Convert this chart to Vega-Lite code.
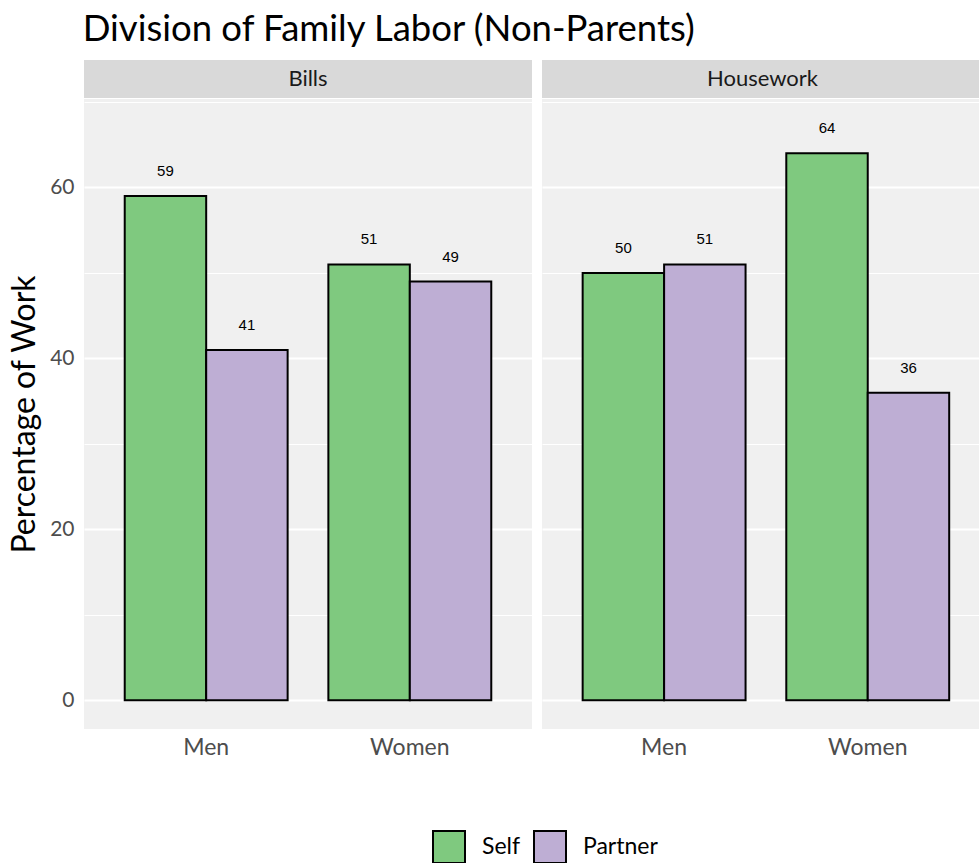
{
  "$schema": "https://vega.github.io/schema/vega-lite/v6.json",
  "background": "white",
  "padding": {"left": 8, "top": 11, "right": 0, "bottom": 0},
  "title": {"text": "Division of Family Labor (Non-Parents)", "anchor": "start", "font": "Lato", "fontSize": 36.5, "fontWeight": "normal", "color": "black", "dx": 74, "offset": 12},
  "datasets": {
    "labor": [
      {"facet": "Bills", "gender": "Men", "who": "Self", "value": 59},
      {"facet": "Bills", "gender": "Men", "who": "Partner", "value": 41},
      {"facet": "Bills", "gender": "Women", "who": "Self", "value": 51},
      {"facet": "Bills", "gender": "Women", "who": "Partner", "value": 49},
      {"facet": "Housework", "gender": "Men", "who": "Self", "value": 50},
      {"facet": "Housework", "gender": "Men", "who": "Partner", "value": 51},
      {"facet": "Housework", "gender": "Women", "who": "Self", "value": 64},
      {"facet": "Housework", "gender": "Women", "who": "Partner", "value": 36}
    ],
    "strips": [{"facet": "Bills"}, {"facet": "Housework"}]
  },
  "spacing": 10,
  "hconcat": [
    {
      "spacing": 1,
      "vconcat": [
        {
          "data": {"name": "strips"},
          "transform": [{"filter": "datum.facet === 'Bills'"}],
          "width": 448, "height": 38,
          "view": {"fill": "#D9D9D9", "stroke": null},
          "mark": {"type": "text", "font": "Lato", "fontSize": 22, "color": "#1A1A1A"},
          "encoding": {"text": {"field": "facet"}}
        },
        {
          "data": {"name": "labor"},
          "transform": [{"filter": "datum.facet === 'Bills'"}],
          "width": 448, "height": 630,
          "view": {"fill": "#F0F0F0", "stroke": null},
          "encoding": {
            "x": {"field": "gender", "type": "nominal", "sort": ["Men", "Women"],
                  "scale": {"paddingInner": 0.2, "paddingOuter": 0.2},
                  "axis": {"title": null, "labelAngle": 0, "ticks": false, "domain": false, "labelFont": "Lato", "labelFontSize": 23, "labelColor": "#4D4D4D", "labelPadding": 7}},
            "xOffset": {"field": "who", "sort": ["Self", "Partner"]},
            "y": {"field": "value", "type": "quantitative",
                  "scale": {"domain": [-3.35, 70.35], "nice": false, "zero": false},
                  "axis": {"title": "Percentage of Work", "titleFont": "Lato", "titleFontSize": 32, "titleFontWeight": "normal", "titleColor": "black", "titlePadding": 8,
                           "values": [0, 10, 20, 30, 40, 50, 60, 70], "labelExpr": "datum.value % 20 === 0 ? datum.label : ''",
                           "ticks": false, "domain": false, "labelFont": "Lato", "labelFontSize": 21, "labelColor": "#4D4D4D", "labelPadding": 10,
                           "grid": true, "gridColor": "white", "gridWidth": {"condition": {"test": "datum.value % 20 === 0", "value": 2}, "value": 1}}}
          },
          "layer": [
            {"mark": {"type": "bar", "stroke": "black", "strokeWidth": 2},
             "encoding": {"color": {"field": "who", "type": "nominal", "sort": ["Self", "Partner"],
               "scale": {"domain": ["Self", "Partner"], "range": ["#7FC97F", "#BEAED4"]},
               "legend": {"title": null, "orient": "none", "direction": "horizontal", "legendX": 348, "legendY": 770,
                          "symbolType": "square", "symbolSize": 1024, "symbolStrokeColor": "black", "symbolStrokeWidth": 2, "symbolOpacity": 1,
                          "labelFont": "Lato", "labelFontSize": 23, "labelColor": "black", "labelOffset": 16, "columnPadding": 9}}}},
            {"mark": {"type": "text", "font": "Liberation Sans", "fontSize": 15, "color": "black", "dy": -25},
             "encoding": {"text": {"field": "value", "type": "quantitative"}}}
          ]
        }
      ]
    },
    {
      "spacing": 1,
      "vconcat": [
        {
          "data": {"name": "strips"},
          "transform": [{"filter": "datum.facet === 'Housework'"}],
          "width": 437, "height": 38,
          "view": {"fill": "#D9D9D9", "stroke": null},
          "mark": {"type": "text", "font": "Lato", "fontSize": 22, "color": "#1A1A1A", "dx": 2},
          "encoding": {"text": {"field": "facet"}}
        },
        {
          "data": {"name": "labor"},
          "transform": [{"filter": "datum.facet === 'Housework'"}],
          "width": 437, "height": 630,
          "view": {"fill": "#F0F0F0", "stroke": null},
          "encoding": {
            "x": {"field": "gender", "type": "nominal", "sort": ["Men", "Women"],
                  "scale": {"paddingInner": 0.2, "paddingOuter": 0.173, "align": 0.577},
                  "axis": {"title": null, "labelAngle": 0, "ticks": false, "domain": false, "labelFont": "Lato", "labelFontSize": 23, "labelColor": "#4D4D4D", "labelPadding": 7}},
            "xOffset": {"field": "who", "sort": ["Self", "Partner"]},
            "y": {"field": "value", "type": "quantitative",
                  "scale": {"domain": [-3.35, 70.35], "nice": false, "zero": false},
                  "axis": {"title": null, "labels": false,
                           "values": [0, 10, 20, 30, 40, 50, 60, 70],
                           "ticks": false, "domain": false,
                           "grid": true, "gridColor": "white", "gridWidth": {"condition": {"test": "datum.value % 20 === 0", "value": 2}, "value": 1}}}
          },
          "layer": [
            {"mark": {"type": "bar", "stroke": "black", "strokeWidth": 2},
             "encoding": {"color": {"field": "who", "type": "nominal", "sort": ["Self", "Partner"],
               "scale": {"domain": ["Self", "Partner"], "range": ["#7FC97F", "#BEAED4"]}}}},
            {"mark": {"type": "text", "font": "Liberation Sans", "fontSize": 15, "color": "black", "dy": -25},
             "encoding": {"text": {"field": "value", "type": "quantitative"}}}
          ]
        }
      ]
    }
  ]
}
